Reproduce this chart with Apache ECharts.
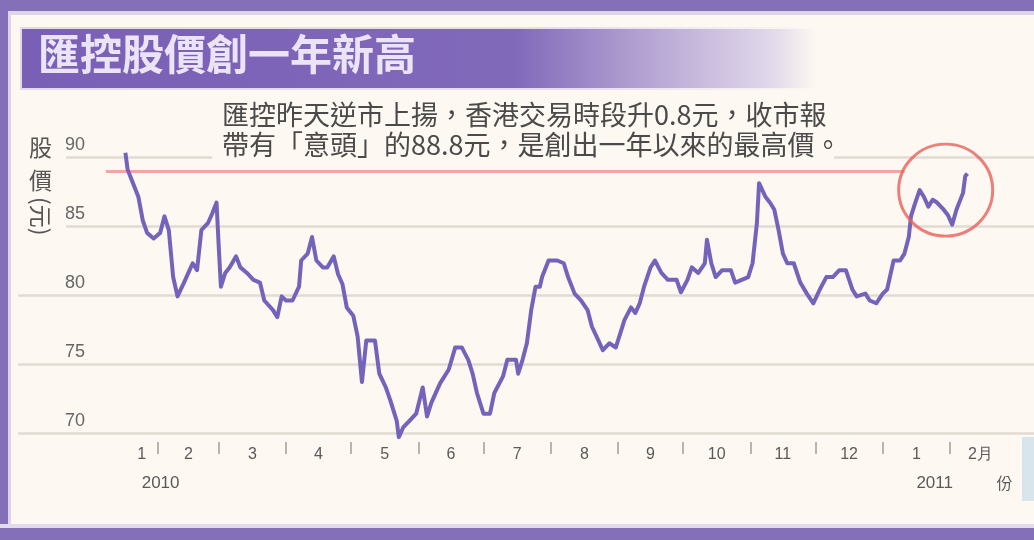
<!DOCTYPE html>
<html>
<head>
<meta charset="utf-8">
<title>匯控股價創一年新高</title>
<script src="https://cdn.jsdelivr.net/npm/echarts@6/dist/echarts.min.js"></script>
<style>
    html, body { margin: 0; padding: 0; background: #fdf8f1; }
    #chart { width: 1034px; height: 540px; }
</style>
</head>
<body>
<div id="chart"></div>
<script>
//日期 (2010-01 ~ 2011-02)
const dates = [
    '2010-01-17', '2010-01-18', '2010-01-20', '2010-01-23', '2010-01-25', '2010-01-27', '2010-01-30',
    '2010-02-02', '2010-02-04', '2010-02-06', '2010-02-07', '2010-02-08', '2010-02-10', '2010-02-13',
    '2010-02-15', '2010-02-17', '2010-02-19', '2010-02-21', '2010-02-24', '2010-02-26', '2010-02-28',
    '2010-03-01', '2010-03-02', '2010-03-04', '2010-03-06', '2010-03-09', '2010-03-11', '2010-03-14',
    '2010-03-17', '2010-03-20', '2010-03-22', '2010-03-26', '2010-03-28', '2010-03-30',
    '2010-04-01', '2010-04-04', '2010-04-07', '2010-04-08', '2010-04-11', '2010-04-13', '2010-04-15',
    '2010-04-18', '2010-04-20', '2010-04-23', '2010-04-25', '2010-04-27', '2010-04-29',
    '2010-05-02', '2010-05-04', '2010-05-06', '2010-05-08', '2010-05-12', '2010-05-14', '2010-05-17',
    '2010-05-19', '2010-05-22', '2010-05-23', '2010-05-25', '2010-05-28', '2010-05-31',
    '2010-06-03', '2010-06-05', '2010-06-07', '2010-06-11', '2010-06-15', '2010-06-18', '2010-06-21',
    '2010-06-24', '2010-06-26', '2010-06-28',
    '2010-07-01', '2010-07-04', '2010-07-06', '2010-07-10', '2010-07-12', '2010-07-16', '2010-07-17',
    '2010-07-19', '2010-07-21', '2010-07-23', '2010-07-25', '2010-07-27', '2010-07-28', '2010-07-31',
    '2010-08-04', '2010-08-07', '2010-08-09', '2010-08-12', '2010-08-15', '2010-08-18', '2010-08-20',
    '2010-08-23', '2010-08-25', '2010-08-28', '2010-08-31',
    '2010-09-02', '2010-09-04', '2010-09-07', '2010-09-09', '2010-09-11', '2010-09-13', '2010-09-16',
    '2010-09-18', '2010-09-21', '2010-09-24', '2010-09-28', '2010-09-30',
    '2010-10-03', '2010-10-05', '2010-10-08', '2010-10-11', '2010-10-12', '2010-10-14', '2010-10-16',
    '2010-10-19', '2010-10-23', '2010-10-25', '2010-10-28', '2010-10-31',
    '2010-11-02', '2010-11-04', '2010-11-05', '2010-11-08', '2010-11-10', '2010-11-12', '2010-11-14',
    '2010-11-16', '2010-11-18', '2010-11-21', '2010-11-24', '2010-11-27', '2010-11-30',
    '2010-12-03', '2010-12-06', '2010-12-09', '2010-12-12', '2010-12-15', '2010-12-18', '2010-12-20',
    '2010-12-24', '2010-12-26', '2010-12-29',
    '2011-01-01', '2011-01-03', '2011-01-06', '2011-01-09', '2011-01-11', '2011-01-13', '2011-01-14',
    '2011-01-16', '2011-01-18', '2011-01-20', '2011-01-22', '2011-01-24', '2011-01-26', '2011-01-29',
    '2011-01-31', '2011-02-02', '2011-02-04', '2011-02-07', '2011-02-08', '2011-02-09'
];
//股價(元)
const prices = [
    90.3, 89.1, 88.3, 87.1, 85.4, 84.5, 84.1,
    84.5, 85.7, 84.7, 83.0, 81.3, 79.9, 80.9,
    81.6, 82.3, 81.8, 84.7, 85.2, 85.9, 86.7,
    83.5, 80.6, 81.6, 82.0, 82.8, 82.0, 81.6,
    81.1, 80.9, 79.6, 78.9, 78.4, 79.9,
    79.6, 79.6, 80.6, 82.5, 83.0, 84.2, 82.5,
    82.0, 82.0, 82.8, 81.5, 80.8, 79.1,
    78.5, 77.0, 73.7, 76.7, 76.7, 74.3, 73.3,
    72.4, 70.9, 69.7, 70.4, 70.9, 71.4,
    73.3, 71.2, 72.2, 73.6, 74.6, 76.2, 76.2,
    75.3, 74.3, 72.9,
    71.4, 71.4, 72.9, 74.1, 75.3, 75.3, 74.3,
    75.3, 76.5, 78.9, 80.6, 80.6, 81.3, 82.5,
    82.5, 82.3, 81.3, 80.1, 79.6, 78.9, 77.7,
    76.7, 76.0, 76.5, 76.2,
    77.2, 78.2, 79.1, 78.7, 79.4, 80.6, 82.0,
    82.5, 81.6, 81.1, 81.1, 80.2,
    81.1, 82.0, 81.6, 82.3, 84.0, 82.3, 81.3,
    81.8, 81.8, 80.9, 81.1, 81.3,
    82.3, 85.2, 88.1, 87.1, 86.7, 86.2, 84.7,
    83.0, 82.3, 82.3, 80.9, 80.1, 79.4,
    80.4, 81.3, 81.3, 81.8, 81.8, 80.4, 79.9,
    80.1, 79.6, 79.4,
    80.1, 80.4, 82.5, 82.5, 83.0, 84.2, 85.7,
    86.7, 87.6, 87.1, 86.4, 86.9, 86.7, 86.2,
    85.8, 85.1, 86.2, 87.4, 88.6, 88.8
];
//月份起始日
const monthStarts = [
    '2010-01-01', '2010-02-01', '2010-03-01', '2010-04-01', '2010-05-01', '2010-06-01', '2010-07-01',
    '2010-08-01', '2010-09-01', '2010-10-01', '2010-11-01', '2010-12-01', '2011-01-01', '2011-02-01',
    '2011-03-01'
];
const monthLabels = ['1', '2', '3', '4', '5', '6', '7', '8', '9', '10', '11', '12', '1', '2月'];
//第二行標籤 (月份序號 -> 文字)
const yearIdx = [0, 12, 13];
const yearLabels = ['2010', '2011', '份'];
//y軸刻度
const yTicks = [70, 75, 80, 85, 90];
//一年高位參考線
const highLevel = 89.0;
const highFrom = '2010-01-08';
const highTo = '2011-01-11';
//紅圈位置
const circleAt = ['2011-01-30', 87.6];

//日期 -> 2010-01-01 起的日數
function dayOf(s) {
    var p = s.split('-');
    return (Date.UTC(+p[0], +p[1] - 1, +p[2]) - Date.UTC(2010, 0, 1)) / 86400000;
}

const firstDay = dayOf(dates[0]);
const startDays = monthStarts.map(dayOf);
const tickDays = startDays.slice(1, 14);
const labelDays = monthLabels.map(function (m, i) {
    return (Math.max(startDays[i], firstDay) + startDays[i + 1]) / 2;
});
const yearDays = yearIdx.map(function (i) { return labelDays[i]; });

const seriesData = dates.map(function (d, i) { return [dayOf(d), prices[i]]; });

const cream = '#fdf8f1';
const labelFont = "'Liberation Sans', Arial, sans-serif";
const cjkFont = "'Noto Sans CJK TC', 'Noto Sans CJK SC', sans-serif";

let chart = echarts.init(document.getElementById('chart'));

let option = {
    backgroundColor: cream,
    animation: false,
    grid: {
        left: 18,
        right: 0,
        top: 157,
        bottom: 107
    },
    xAxis: [
        {
            type: 'value',
            min: -33.5,
            max: 434.7,
            offset: 9,
            splitLine: { show: false },
            axisLine: { show: false },
            axisTick: {
                show: true,
                customValues: tickDays,
                length: 12,
                lineStyle: { color: '#b9b4ae', width: 2 }
            },
            axisLabel: {
                customValues: labelDays,
                margin: 5,
                color: '#5a5a5a',
                fontFamily: labelFont,
                fontSize: 16,
                formatter: function (v) {
                    var i = labelDays.indexOf(v);
                    return i >= 0 ? monthLabels[i] : '';
                }
            }
        },
        {
            type: 'value',
            position: 'bottom',
            min: -33.5,
            max: 434.7,
            offset: 9,
            splitLine: { show: false },
            axisLine: { show: false },
            axisTick: { show: false },
            axisLabel: {
                customValues: yearDays,
                margin: 33,
                align: 'left',
                color: '#5a5a5a',
                fontFamily: labelFont,
                fontSize: 17,
                formatter: function (v) {
                    var i = yearDays.indexOf(v);
                    if (i < 0) return '';
                    return yearLabels[i] === '份' ? '{c|份}' : yearLabels[i];
                },
                rich: {
                    c: { fontFamily: cjkFont, fontSize: 16, color: '#5a5a5a', padding: [0, 0, 0, 16] }
                }
            }
        }
    ],
    yAxis: {
        type: 'value',
        min: yTicks[0],
        max: yTicks[yTicks.length - 1],
        interval: 5,
        axisLine: { show: false },
        axisTick: { show: false },
        axisLabel: {
            inside: true,
            margin: 47,
            verticalAlign: 'bottom',
            padding: [0, 0, 3, 0],
            color: '#666',
            fontFamily: labelFont,
            fontSize: 18
        },
        splitLine: {
            lineStyle: { color: '#e2dbd2', width: 2.5 }
        }
    },
    series: [
        {
            name: '匯控',
            type: 'line',
            data: seriesData,
            showSymbol: false,
            clip: false,
            z: 5,
            lineStyle: { color: '#7463ba', width: 4, join: 'round' },
            markLine: {
                silent: true,
                symbol: 'none',
                label: { show: false },
                lineStyle: { color: '#f2a5a1', width: 3, type: 'solid' },
                data: [[
                    { coord: [dayOf(highFrom), highLevel] },
                    { coord: [dayOf(highTo), highLevel] }
                ]]
            }
        },
        {
            name: '新高',
            type: 'scatter',
            data: [[dayOf(circleAt[0]), circleAt[1]]],
            symbol: 'circle',
            symbolSize: [94, 92],
            silent: true,
            z: 6,
            itemStyle: { color: 'rgba(0,0,0,0)', borderColor: '#e8605c', borderWidth: 3 }
        }
    ],
    graphic: [
        //外框
        { type: 'rect', z: 40, shape: { x: 0, y: 0, width: 1034, height: 11 }, style: { fill: '#8470b8' } },
        { type: 'rect', z: 40, shape: { x: 0, y: 11, width: 1034, height: 4 }, style: { fill: '#ded5ea' } },
        { type: 'rect', z: 40, shape: { x: 0, y: 0, width: 8, height: 540 }, style: { fill: '#8470b8' } },
        { type: 'rect', z: 40, shape: { x: 8, y: 11, width: 3, height: 517 }, style: { fill: '#ded5ea' } },
        { type: 'rect', z: 40, shape: { x: 0, y: 524, width: 1034, height: 4 }, style: { fill: '#e2dbec' } },
        { type: 'rect', z: 40, shape: { x: 0, y: 528, width: 1034, height: 12 }, style: { fill: '#8470b8' } },
        { type: 'rect', z: 40, shape: { x: 1022, y: 437, width: 12, height: 64 }, style: { fill: '#d9e5ec' } },
        //標題
        {
            type: 'rect', z: 40,
            shape: { x: 20, y: 27, width: 800, height: 63 },
            style: {
                fill: new echarts.graphic.LinearGradient(0, 0, 1, 0, [
                    { offset: 0, color: '#e2d9ee' },
                    { offset: 0.7, color: '#e6def0' },
                    { offset: 1, color: cream }
                ])
            }
        },
        {
            type: 'rect', z: 41,
            shape: { x: 22, y: 29, width: 795, height: 59 },
            style: {
                fill: new echarts.graphic.LinearGradient(0, 0, 1, 0, [
                    { offset: 0, color: '#7a5fb6' },
                    { offset: 0.62, color: '#8169ba' },
                    { offset: 0.8, color: '#b9a9d5' },
                    { offset: 0.94, color: '#e0d7ea' },
                    { offset: 1, color: cream }
                ])
            }
        },
        {
            type: 'text', z: 42, left: 38, top: 33,
            style: {
                text: '匯控股價創一年新高',
                fill: '#ebe4f6',
                font: "bold 42px 'Noto Sans CJK TC', sans-serif"
            }
        },
        //說明文字
        { type: 'rect', z: 40, shape: { x: 212, y: 98, width: 622, height: 66 }, style: { fill: cream } },
        {
            type: 'text', z: 42, left: 222, top: 100,
            style: {
                text: '匯控昨天逆市上揚，香港交易時段升0.8元，收市報\n帶有「意頭」的88.8元，是創出一年以來的最高價。',
                fill: '#4a4a4a',
                font: "27px 'Noto Sans CJK TC', sans-serif",
                lineHeight: 30
            }
        },
        //y軸名稱
        { type: 'rect', z: 40, shape: { x: 18, y: 128, width: 48, height: 124 }, style: { fill: cream } },
        {
            type: 'text', z: 42, left: 29, top: 131,
            style: {
                text: '股\n價',
                fill: '#555',
                font: "23px 'Noto Sans CJK TC', sans-serif",
                lineHeight: 33
            }
        },
        {
            type: 'text', z: 42, x: 29, y: 197, rotation: -Math.PI / 2,
            style: {
                text: '(元)',
                fill: '#555',
                font: "23px 'Noto Sans CJK TC', sans-serif",
                verticalAlign: 'bottom'
            }
        }
    ]
};
chart.setOption(option);
</script>
</body>
</html>
